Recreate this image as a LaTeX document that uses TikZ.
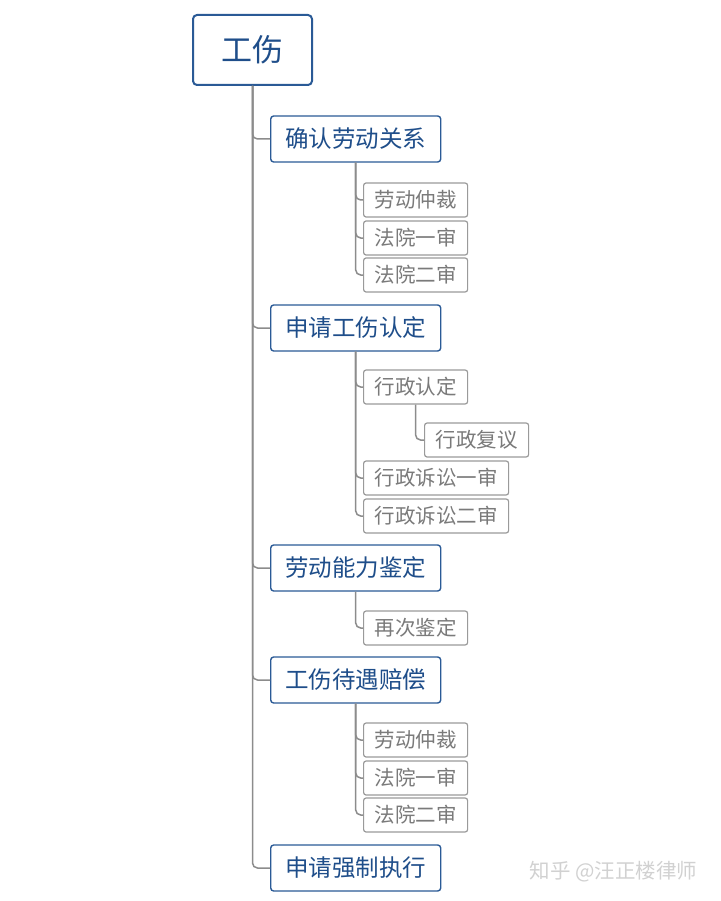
\documentclass[tikz,border=0pt]{standalone}
\usepackage{fontspec}
\setmainfont{Noto Sans CJK SC}
\usetikzlibrary{positioning,calc}
\definecolor{topblue}{HTML}{2A5A96}
\definecolor{toptext}{HTML}{1F4E8A}
\definecolor{subgray}{HTML}{9A9A9A}
\definecolor{subtext}{HTML}{7A7A7A}
\definecolor{linkgray}{HTML}{8C8C8C}
\tikzset{
	rootbox/.style={draw=topblue,line width=2pt,rounded corners=4pt,fill=white,text=toptext,font=\fontsize{31}{33}\selectfont,minimum width=119pt,minimum height=70pt,inner sep=0},
	mainbox/.style={draw=topblue,line width=1.4pt,rounded corners=3pt,fill=white,text=toptext,font=\fontsize{23.5}{25}\selectfont,minimum height=46pt,inner xsep=14.5pt,inner ysep=0,anchor=west},
	subbox/.style={draw=subgray,line width=1.2pt,rounded corners=2.5pt,fill=white,text=subtext,font=\fontsize{20.5}{22}\selectfont,minimum height=34pt,inner xsep=11pt,inner ysep=0,anchor=west},
	link/.style={draw=linkgray,line width=1.5pt,rounded corners=5pt},
	wmark/.style={text=black!18,font=\fontsize{20.5}{22}\selectfont,anchor=east}
}
\begin{document}
\begin{tikzpicture}[x=1pt,y=-1pt]
\useasboundingbox (0,0) rectangle (720,901);

%%%% root
\node[rootbox] (gs) at (252.5,50) {工伤};

%%%% first level
\node[mainbox] (qr) at (270,139) {确认劳动关系};
\node[mainbox] (sq) at (270,328) {申请工伤认定};
\node[mainbox] (ld) at (270,568) {劳动能力鉴定};
\node[mainbox] (dy) at (270,680) {工伤待遇赔偿};
\node[mainbox] (zx) at (270,868) {申请强制执行};

%%%% under qr
\node[subbox] (qr1) at (363,200) {劳动仲裁};
\node[subbox] (qr2) at (363,238) {法院一审};
\node[subbox] (qr3) at (363,275) {法院二审};

%%%% under sq
\node[subbox] (sq1) at (363,387) {行政认定};
\node[subbox] (sq1a) at (424,440) {行政复议};
\node[subbox] (sq2) at (363,478) {行政诉讼一审};
\node[subbox] (sq3) at (363,516) {行政诉讼二审};

%%%% under ld
\node[subbox] (ld1) at (363,628) {再次鉴定};

%%%% under dy
\node[subbox] (dy1) at (363,740) {劳动仲裁};
\node[subbox] (dy2) at (363,778) {法院一审};
\node[subbox] (dy3) at (363,815) {法院二审};

%%%% links
\foreach \c in {qr,sq,ld,dy,zx}
	\draw[link] (gs.south) |- (\c.west);
\foreach \c in {qr1,qr2,qr3}
	\draw[link] (qr.south) |- (\c.west);
\foreach \c in {sq1,sq2,sq3}
	\draw[link] (sq.south) |- (\c.west);
\draw[link] (sq1.south) |- (sq1a.west);
\draw[link] (ld.south) |- (ld1.west);
\foreach \c in {dy1,dy2,dy3}
	\draw[link] (dy.south) |- (\c.west);

%%%% watermark
\node[wmark] (zh) at (701,872) {知乎 @汪正楼律师};
\end{tikzpicture}
\end{document}
